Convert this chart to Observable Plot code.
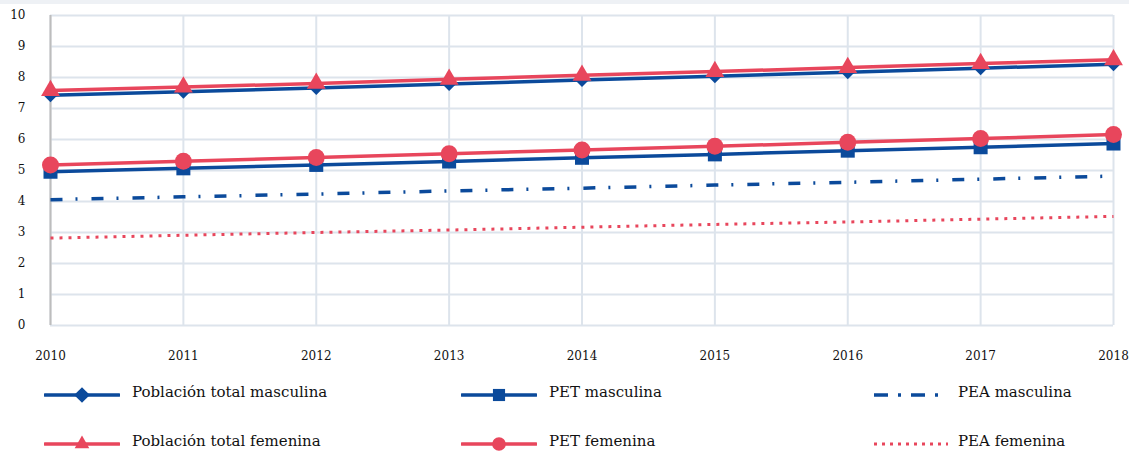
<!DOCTYPE html>
<html><head><meta charset="utf-8">
<script src="https://cdn.jsdelivr.net/npm/d3@7"></script>
<script src="https://cdn.jsdelivr.net/npm/@observablehq/plot@0.6"></script>
<style>
html,body{margin:0;padding:0;background:#fff;}
body{width:1129px;height:453px;overflow:hidden;font-family:"DejaVu Serif",serif;}
#top{height:4px;background:#eef1f5;}
#legend{position:relative;height:83px;}
.item{position:absolute;display:flex;align-items:center;font-size:15px;color:#111;}
.item svg{display:block;}
</style></head>
<body>
<div id="top"></div>
<div id="chart"></div>
<div id="legend"></div>
<script>
const years = [2010, 2011, 2012, 2013, 2014, 2015, 2016, 2017, 2018];
const yTicks = [0, 1, 2, 3, 4, 5, 6, 7, 8, 9, 10];
const popMasc = [7.43, 7.54, 7.66, 7.79, 7.92, 8.04, 8.17, 8.30, 8.43];
const popFem  = [7.58, 7.69, 7.81, 7.94, 8.07, 8.19, 8.32, 8.45, 8.57];
const petMasc = [4.96, 5.07, 5.18, 5.29, 5.41, 5.52, 5.64, 5.75, 5.87];
const petFem  = [5.18, 5.30, 5.42, 5.54, 5.66, 5.78, 5.91, 6.03, 6.16];
const peaMasc = [4.06, 4.15, 4.24, 4.34, 4.43, 4.53, 4.62, 4.72, 4.82];
const peaFem  = [2.82, 2.91, 3.00, 3.08, 3.17, 3.26, 3.34, 3.43, 3.52];
const seriesNames = ["Población total masculina", "PET masculina", "PEA masculina",
                     "Población total femenina", "PET femenina", "PEA femenina"];

const BLUE = "#0b4a9b", RED = "#e8465c";
const series = [
  {name: seriesNames[0], values: popMasc, color: BLUE, symbol: "diamond2", r: 6.3, lr: 1.25, dash: null, width: 3.5},
  {name: seriesNames[1], values: petMasc, color: BLUE, symbol: "square", r: 7.9, lr: 0.75, dash: null, width: 3.5},
  {name: seriesNames[2], values: peaMasc, color: BLUE, symbol: null, dash: "12,13,2,14", width: 3.5},
  {name: seriesNames[3], values: popFem, color: RED, symbol: "triangle", r: 7, lr: 0.6, dash: null, width: 3.5},
  {name: seriesNames[4], values: petFem, color: RED, symbol: "circle", r: 8.5, lr: 0.65, dash: null, width: 3.5},
  {name: seriesNames[5], values: peaFem, color: RED, symbol: null, dash: "3,6", width: 3},
];
const rows = s => years.map((y, i) => ({year: y, value: s.values[i]}));

const marks = [
  Plot.ruleY(yTicks, {stroke: "#dde4ec", strokeWidth: 2}),
  Plot.ruleX(years, {stroke: "#dde4ec", strokeWidth: 2}),
  Plot.ruleX([2010], {stroke: "#bdbdbd", strokeWidth: 2}),
  Plot.axisX(years, {tickSize: 0, tickPadding: 26, tickFormat: d => String(d), fontSize: 12, fill: "#111", label: null}),
  Plot.axisY(yTicks, {tickSize: 0, tickPadding: 25, fontSize: 12, fill: "#111", label: null})
];
const order = [2, 5, 0, 1, 3, 4];
for (const k of order) {
  const s = series[k];
  marks.push(Plot.line(rows(s), {x: "year", y: "value", stroke: s.color, strokeWidth: s.width,
    strokeDasharray: s.dash, strokeLinecap: "butt"}));
  if (s.symbol) marks.push(Plot.dot(rows(s), {x: "year", y: "value", fill: s.color, stroke: "none",
    symbol: () => s.symbol, r: s.r}));
}

const chart = Plot.plot({
  width: 1129, height: 366,
  marginLeft: 50, marginRight: 16, marginTop: 11, marginBottom: 45,
  style: {fontFamily: "DejaVu Serif, serif", background: "#fff", overflow: "visible"},
  x: {type: "linear", domain: [2010, 2018], axis: null},
  y: {domain: [0, 10], axis: null},
  marks
});
document.getElementById("chart").appendChild(chart);

// legend
const legendPos = [
  {x: 44, y: 15}, {x: 461, y: 15}, {x: 873, y: 15},
  {x: 44, y: 64}, {x: 461, y: 64}, {x: 873, y: 64}
];
const leg = document.getElementById("legend");
series.forEach((s, i) => {
  const p = legendPos[i];
  const div = document.createElement("div");
  div.className = "item";
  div.style.left = p.x + "px"; div.style.top = (p.y - 4) + "px";
  const w = 76, h = 22;
  const svg = d3.create("svg").attr("width", w).attr("height", h);
  svg.append("line").attr("x1", 1).attr("x2", w - 1).attr("y1", h / 2 + 3).attr("y2", h / 2 + 3)
    .attr("stroke", s.color).attr("stroke-width", s.width)
    .attr("stroke-dasharray", s.dash ? (i === 2 ? "14,10,3,10" : "3,5") : null)
    .attr("stroke-linecap", s.dash ? "butt" : "round");
  if (s.symbol) {
    const sym = {diamond2: d3.symbolDiamond2, square: d3.symbolSquare, triangle: d3.symbolTriangle, circle: d3.symbolCircle}[s.symbol];
    svg.append("path").attr("d", d3.symbol(sym, s.r * s.r * Math.PI * s.lr)())
      .attr("transform", `translate(${w / 2},${h / 2 + 3})`).attr("fill", s.color);
  }
  div.appendChild(svg.node());
  const t = document.createElement("span");
  t.textContent = s.name;
  t.style.marginLeft = (i % 3 === 2 ? 9 : 12) + "px";
  div.appendChild(t);
  leg.appendChild(div);
});
</script>
</body></html>
